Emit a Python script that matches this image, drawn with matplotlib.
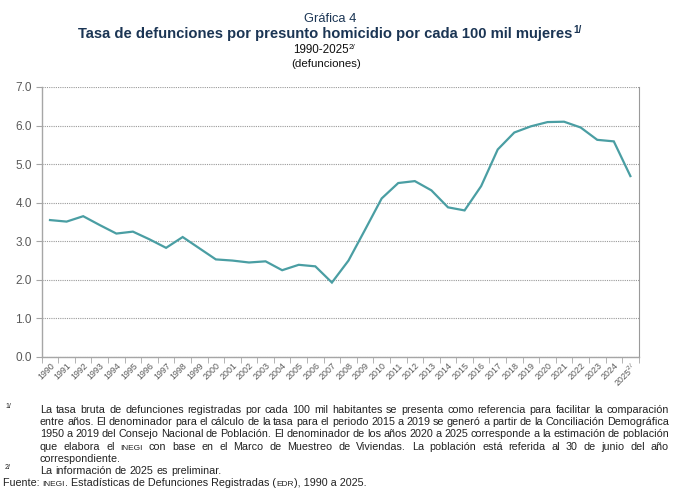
import matplotlib
matplotlib.use("Agg")
import matplotlib.pyplot as plt
import numpy as np

plt.rcParams['font.family'] = ['Liberation Sans', 'DejaVu Sans']
plt.rcParams['mathtext.fontset'] = 'custom'
plt.rcParams['mathtext.rm'] = 'Liberation Sans'
plt.rcParams['mathtext.it'] = 'Liberation Sans'
plt.rcParams['mathtext.bf'] = 'Liberation Sans:bold'

years = [str(y) for y in range(1990, 2025)] + ["2025$^{2/}$"]
tasa = [3.55, 3.51, 3.65, 3.42, 3.20, 3.25, 3.05, 2.83, 3.11, 2.82,
        2.53, 2.50, 2.45, 2.48, 2.25, 2.39, 2.35, 1.93, 2.50, 3.30,
        4.11, 4.51, 4.56, 4.32, 3.88, 3.80, 4.43, 5.38, 5.82, 5.98,
        6.09, 6.10, 5.95, 5.63, 5.59, 4.69]
yticks = [0, 1, 2, 3, 4, 5, 6, 7]

LINE = '#4a9ea3'
GRAY = '#595959'
AXC = '#a6a6a6'
NAVY = '#1b3554'
TXT = '#222222'

W, H = 700, 492
fig = plt.figure(figsize=(7.0, 4.92), dpi=100)
ax = fig.add_axes([0.0596, 0.2744, 0.8528, 0.5488])

x = np.arange(len(tasa))
ax.plot(x, tasa, color=LINE, lw=1.6, solid_joinstyle='miter')
ax.set_xlim(-0.5, len(tasa) - 0.5)
ax.set_ylim(0, 7)
ax.set_yticks(yticks)
ax.set_yticklabels([f"{v:.1f}" for v in yticks], fontsize=8.5, color=GRAY)
ax.yaxis.grid(True, linestyle=(0, (1, 1)), color='#9a9a9a', lw=0.8)
ax.set_axisbelow(True)
ax.tick_params(axis='y', length=4, color=AXC, pad=3)

ax.set_xticks(x)
ax.set_xticklabels(years, rotation=45, ha='right', va='top', rotation_mode='anchor',
                   fontsize=6.4, color=GRAY)
ax.set_xticks(np.arange(-0.5, len(tasa)), minor=True)
ax.tick_params(axis='x', which='major', length=0, pad=3)
ax.tick_params(axis='x', which='minor', length=4, color=AXC)

for s in ['left', 'bottom']:
    ax.spines[s].set_color(AXC)
    ax.spines[s].set_linewidth(1.0)
ax.spines['top'].set_visible(False)
ax.spines['right'].set_color('#9a9a9a')
ax.spines['right'].set_linestyle((0, (1, 1)))
ax.spines['right'].set_linewidth(0.8)

fig.canvas.draw()
renderer = fig.canvas.get_renderer()

def width_px(s, fs, weight='normal'):
    t = fig.text(0, 0, s, fontsize=fs, fontweight=weight)
    w = t.get_window_extent(renderer).width
    t.remove()
    return w

def fit(s, target, weight='normal'):
    return 10 * target / width_px(s, 10, weight)

def put(xpx, ypx, s, fs, color, weight='normal', va='baseline'):
    t = fig.text(xpx / W, 1 - ypx / H, s, fontsize=fs, color=color, fontweight=weight, va=va)
    return xpx + t.get_window_extent(renderer).width

# titles (left edges, baselines and widths)
fs_g = fit("Gráfica 4", 53)
put(304, 22, "Gráfica 4", fs_g, NAVY)
title = "Tasa de defunciones por presunto homicidio por cada 100 mil mujeres"
fs_t = fit(title, 495, 'bold')
xe = put(78, 38, title, fs_t, NAVY, 'bold')
put(xe + 0.5, 33, "1/", fs_t * 0.68, NAVY, 'bold')
fs_p = fit("1990-2025", 56)
xe = put(293, 53, "1990-2025", fs_p, '#111111')
put(xe + 0.3, 49, "2/", fs_p * 0.68, '#111111')
fs_d = fit("(defunciones)", 70)
put(291, 67, "(defunciones)", fs_d, '#111111')

# footnotes
SC = 0.78
fuente = [("Fuente: ", 1), ("INEGI", SC), (". Estadísticas de Defunciones Registradas (", 1),
          ("EDR", SC), ("), 1990 a 2025.", 1)]
wsum = sum(width_px(s, 10 * k) for s, k in fuente)
FS = 10 * 363 / wsum

left_px, right_px = 40, 669

def draw_line(words, ypx, justify):
    widths = [width_px(w, f) for w, f in words]
    space = width_px("a a", FS) - width_px("aa", FS)
    if justify and len(words) > 1:
        gap = (right_px - left_px - sum(widths)) / (len(words) - 1)
    else:
        gap = space
    xp = left_px
    for (w, f), wd in zip(words, widths):
        fig.text(xp / W, 1 - ypx / H, w, fontsize=f, color=TXT, va='baseline')
        xp += wd + gap

def split(s):
    return [(w, FS * SC) if w == 'INEGI' else (w, FS) for w in s.split(' ')]

lines = [
    ("La tasa bruta de defunciones registradas por cada 100 mil habitantes se presenta como referencia para facilitar la comparación", True),
    ("entre años. El denominador para el cálculo de la tasa para el periodo 2015 a 2019 se generó a partir de la Conciliación Demográfica", True),
    ("1950 a 2019 del Consejo Nacional de Población. El denominador de los años 2020 a 2025 corresponde a la estimación de población", True),
    ("que elabora el INEGI con base en el Marco de Muestreo de Viviendas. La población está referida al 30 de junio del año", True),
    ("correspondiente.", False),
]
y0 = 413
dy = 12.2
for i, (s, j) in enumerate(lines):
    draw_line(split(s), y0 + i * dy, j)
put(5, y0 - 5, "1/", 5, TXT)
put(5, y0 + 5 * dy - 5, "2/", 5, TXT)
draw_line(split("La información de 2025 es preliminar."), y0 + 5 * dy, False)

xp = 3
for s, k in fuente:
    xp = put(xp, y0 + 6 * dy, s, FS * k, TXT)

fig.savefig("out.png", dpi=100)
